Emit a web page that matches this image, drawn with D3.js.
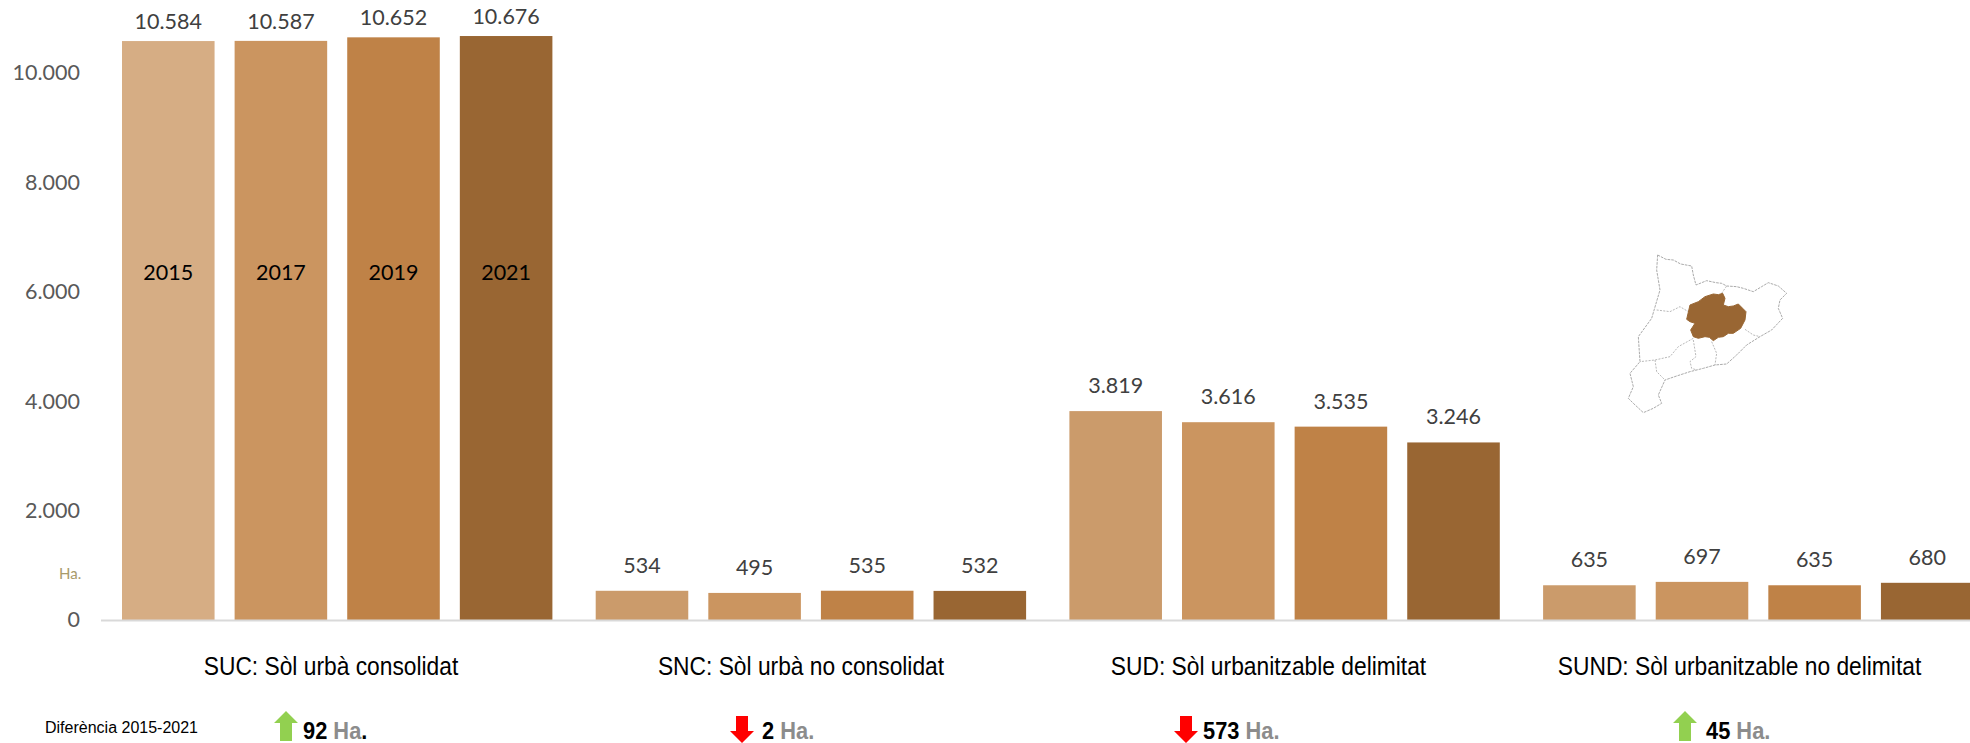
<!DOCTYPE html>
<html>
<head>
<meta charset="utf-8">
<script src="https://cdn.jsdelivr.net/npm/d3@7"></script>
<style>
  html, body { margin: 0; padding: 0; background: #fff; overflow: hidden; }
  svg { display: block; }
</style>
</head>
<body>
<svg id="chart" width="1970" height="743"></svg>
<script>
(function () {
    'use strict';

    const categories = [
        'SUC: Sòl urbà consolidat',
        'SNC: Sòl urbà no consolidat',
        'SUD: Sòl urbanitzable delimitat',
        'SUND: Sòl urbanitzable no delimitat'
    ];
    const years = ['2015', '2017', '2019', '2021'];
    const v2015 = [10584, 534, 3819, 635];
    const v2017 = [10587, 495, 3616, 697];
    const v2019 = [10652, 535, 3535, 635];
    const v2021 = [10676, 532, 3246, 680];
    const diffs = [92, -2, -573, 45];
    const yTicks = [0, 2000, 4000, 6000, 8000, 10000];

    const series = [v2015, v2017, v2019, v2021];

    // map outline (crop pixels, 3x)
    const mapOutline = [[203,45],[228,58],[250,60],[272,72],[305,78],[310,105],[318,135],[350,122],[378,128],[395,130],[410,138],[440,140],[460,145],[490,155],[515,140],[535,128],[565,138],[590,160],[570,180],[565,205],[578,235],[545,270],[510,290],[470,315],[440,345],[410,372],[375,375],[340,385],[300,395],[260,408],[225,420],[205,465],[215,490],[190,505],[160,518],[130,490],[115,475],[130,440],[120,400],[150,365],[145,290],[185,235],[210,150],[200,90]];
    const mapBorders = [
        [[200,210],[240,215],[270,200],[295,215]],
        [[310,295],[265,320],[240,350],[195,360],[150,365]],
        [[195,360],[200,395],[225,420]],
        [[310,300],[318,350],[300,365],[305,385],[320,390]],
        [[365,305],[380,340],[375,375]],
        [[465,268],[490,285],[510,290]],
        [[395,160],[410,138]]
    ];
    const mapRegion = [[130,42],[145,44],[158,40],[165,55],[160,75],[175,80],[190,78],[205,72],[218,85],[228,95],[225,120],[212,145],[190,160],[175,160],[160,170],[145,172],[130,182],[118,172],[105,170],[85,175],[70,170],[62,150],[75,130],[60,125],[50,118],[60,75],[85,65],[105,50]];

    const sv = d3.select('#chart');
    const loc = d3.formatLocale({ decimal: ',', thousands: '.', grouping: [3], currency: ['', ''] });
    const fmt = loc.format(',d');

    const base = 620;
    const x0_sc = d3.scaleLinear().domain([0, 1]).range([122, 595.7]);
    const x1_sc = d3.scaleBand().domain(years).range([0, 430.4]).paddingInner(0.178).paddingOuter(0);
    const y_sc = d3.scaleLinear().domain([0, 10000]).range([base, 73]);

    const co_sc = d3.scaleOrdinal().domain(years).range(['#D6AD84', '#CB9560', '#BF8247', '#996633']);
    const barColor = (yr, c) => (yr === '2015' && c > 0) ? '#CB9B6B' : co_sc(yr);

    const numFont = 'Lato, "Open Sans", sans-serif';
    const arFont = '"Liberation Sans", Arial, sans-serif';

    // y axis
    const y_ax = d3.axisLeft(y_sc).tickValues(yTicks).tickSize(0).tickPadding(0).tickFormat(fmt);
    sv.append('g')
        .attr('transform', 'translate(80,0)')
        .call(y_ax)
        .call(g => g.select('.domain').remove())
        .selectAll('text')
        .style('font-family', numFont)
        .style('font-size', '21.5px')
        .style('fill', '#595959');

    // bars
    const rows = [];
    categories.forEach((c, ci) => {
        years.forEach((yr, yi) => {
            rows.push({ ci: ci, yr: yr, va: series[yi][ci] });
        });
    });

    sv.selectAll('.bar')
        .data(rows)
        .enter()
        .append('rect')
        .attr('class', 'bar')
        .attr('x', d => x0_sc(d.ci) + x1_sc(d.yr))
        .attr('y', d => y_sc(d.va))
        .attr('width', x1_sc.bandwidth())
        .attr('height', d => base - y_sc(d.va))
        .attr('fill', d => barColor(d.yr, d.ci));

    // baseline
    sv.append('line')
        .attr('x1', 101).attr('x2', 1970)
        .attr('y1', base + 0.5).attr('y2', base + 0.5)
        .attr('stroke', '#D9D9D9')
        .attr('stroke-width', 2);

    // value labels
    sv.selectAll('.val')
        .data(rows)
        .enter()
        .append('text')
        .attr('class', 'val')
        .attr('x', d => x0_sc(d.ci) + x1_sc(d.yr) + x1_sc.bandwidth() / 2)
        .attr('y', d => y_sc(d.va) - (d.ci === 0 ? 12 : 18))
        .attr('text-anchor', 'middle')
        .style('font-family', numFont)
        .style('font-size', '21.5px')
        .style('fill', '#404040')
        .text(d => fmt(d.va));

    // years inside the first group
    sv.selectAll('.yr')
        .data(years)
        .enter()
        .append('text')
        .attr('class', 'yr')
        .attr('x', d => x0_sc(0) + x1_sc(d) + x1_sc.bandwidth() / 2)
        .attr('y', 280)
        .attr('text-anchor', 'middle')
        .style('font-family', numFont)
        .style('font-size', '21.5px')
        .style('fill', '#000')
        .text(d => d);

    // Ha. unit
    sv.append('text')
        .attr('x', 59).attr('y', 579)
        .style('font-family', numFont)
        .style('font-size', '15px')
        .style('fill', '#A89A6A')
        .text('Ha.');

    // category labels, squeezed like the narrow type of the original
    const catCenter = [331, 801, 1268.5, 1739.5];
    sv.selectAll('.cat')
        .data(categories)
        .enter()
        .append('text')
        .attr('class', 'cat')
        .attr('transform', (d, i) => `translate(${catCenter[i]},675) scale(0.912,1)`)
        .attr('text-anchor', 'middle')
        .style('font-family', arFont)
        .style('font-size', '25px')
        .style('fill', '#000')
        .text(d => d);

    sv.append('text')
        .attr('x', 45).attr('y', 733)
        .style('font-family', arFont)
        .style('font-size', '16px')
        .style('fill', '#000')
        .text('Diferència 2015-2021');

    // difference row
    const arrowX = [286, 742, 1186, 1685];
    const textX = [303, 762, 1203, 1706];
    const arrow = d3.line();
    diffs.forEach((d, i) => {
        const up = d > 0;
        const cx = arrowX[i];
        const top = up ? 711 : 716;
        const bot = up ? 741 : 743;
        const hw = 12, sw = 6, hh = 12;
        const pts = up
            ? [[cx, top], [cx + hw, top + hh], [cx + sw, top + hh], [cx + sw, bot], [cx - sw, bot], [cx - sw, top + hh], [cx - hw, top + hh]]
            : [[cx, bot], [cx + hw, bot - hh], [cx + sw, bot - hh], [cx + sw, top], [cx - sw, top], [cx - sw, bot - hh], [cx - hw, bot - hh]];
        sv.append('path')
            .attr('d', arrow(pts) + 'Z')
            .attr('fill', up ? '#92D050' : '#FF0000');

        const tx = sv.append('text')
            .attr('transform', `translate(${textX[i]},738.5) scale(0.95,1)`)
            .style('font-family', arFont)
            .style('font-size', '23px')
            .style('font-weight', 'bold');
        tx.append('tspan').style('fill', '#000').text(Math.abs(d) + ' ');
        tx.append('tspan').style('fill', '#8C8C8C').text('Ha');
        tx.append('tspan').style('fill', i === 0 ? '#000' : '#8C8C8C').text('.');
    });

    // little map
    const mp = sv.append('g').attr('transform', 'translate(1590,240) scale(0.3333)');
    const ln = d3.line().curve(d3.curveLinear);
    mp.append('path')
        .attr('d', ln(mapOutline) + 'Z')
        .attr('fill', '#fff')
        .attr('stroke', '#999')
        .attr('stroke-width', 2.5)
        .attr('stroke-dasharray', '8 3');
    mp.selectAll('.border')
        .data(mapBorders)
        .enter()
        .append('path')
        .attr('class', 'border')
        .attr('d', d => ln(d))
        .attr('fill', 'none')
        .attr('stroke', '#aaa')
        .attr('stroke-width', 2.5)
        .attr('stroke-dasharray', '6 4');
    sv.append('g')
        .attr('transform', 'translate(1670,280) scale(0.3333)')
        .append('path')
        .attr('d', ln(mapRegion) + 'Z')
        .attr('fill', '#996633')
        .attr('stroke', '#996633')
        .attr('stroke-width', 3);
})();
</script>
</body>
</html>
